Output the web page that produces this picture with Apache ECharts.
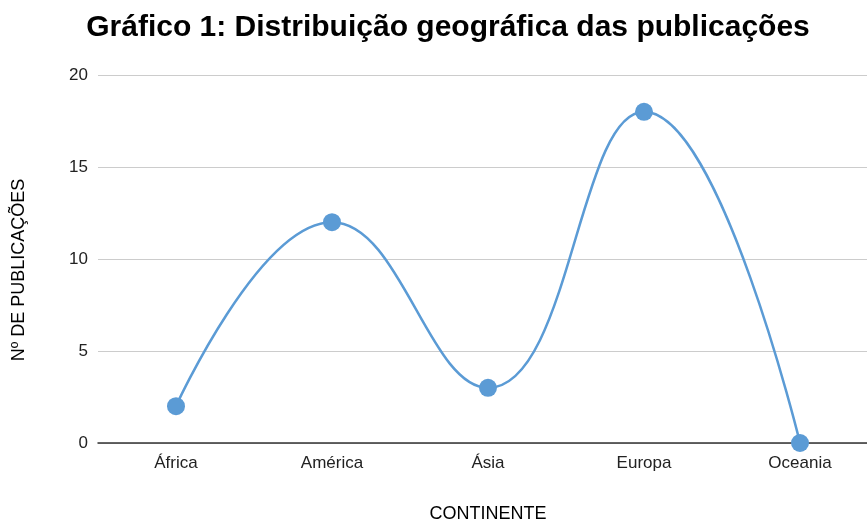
<!DOCTYPE html>
<html>
<head>
<meta charset="utf-8">
<script src="https://cdn.jsdelivr.net/npm/echarts@6/dist/echarts.min.js"></script>
<style>
  html, body { margin: 0; padding: 0; background: #fff; }
  #chart { width: 867px; height: 520px; }
</style>
</head>
<body>
<div id="chart"></div>
<script>
// dados do gráfico
const continentes = ['África', 'América', 'Ásia', 'Europa', 'Oceania'];
const publicacoes = [2, 12, 3, 18, 0];
const yTicks = [0, 5, 10, 15, 20];

const chart = echarts.init(document.getElementById('chart'));

const font = 'Liberation Sans, Arial, sans-serif';

const option = {
  animation: false,
  title: {
    text: 'Gráfico 1: Distribuição geográfica das publicações',
    left: 443,
    textAlign: 'center',
    top: 8,
    textStyle: { fontFamily: font, fontSize: 30, fontWeight: 'bold', color: '#000' }
  },
  grid: {
    left: 98,
    top: 75,
    width: 780, // a última faixa passa da borda, como no original
    height: 368,
    outerBoundsMode: 'none'
  },
  xAxis: {
    type: 'category',
    data: continentes,
    boundaryGap: true,
    name: 'CONTINENTE',
    nameLocation: 'middle',
    nameGap: 62,
    nameTextStyle: { fontFamily: font, fontSize: 18, color: '#000' },
    axisLine: { lineStyle: { color: '#333', width: 1.5 } },
    axisTick: { show: false },
    axisLabel: { margin: 12, fontFamily: font, fontSize: 17, color: '#222' }
  },
  yAxis: {
    type: 'value',
    min: yTicks[0],
    max: yTicks[yTicks.length - 1],
    interval: 5,
    name: 'Nº DE PUBLICAÇÕES',
    nameLocation: 'middle',
    nameGap: 70,
    nameTextStyle: { fontFamily: font, fontSize: 18, color: '#000', padding: [0, 22, 0, 0] },
    axisLine: { show: false },
    axisTick: { show: false },
    axisLabel: { margin: 10, fontFamily: font, fontSize: 17, color: '#222' },
    splitLine: { lineStyle: { color: '#ccc', width: 1 } }
  },
  series: [{
    type: 'line',
    data: publicacoes,
    smooth: 0.45,
    symbol: 'circle',
    symbolSize: 18,
    z: 3,
    lineStyle: { color: '#5b9bd5', width: 2.5 },
    itemStyle: { color: '#5b9bd5' }
  }]
};

chart.setOption(option);
</script>
</body>
</html>
